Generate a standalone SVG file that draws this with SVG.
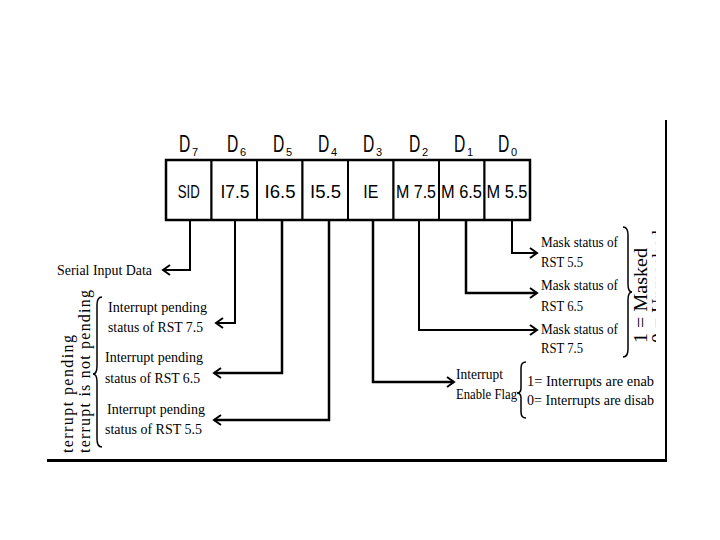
<svg xmlns="http://www.w3.org/2000/svg" width="720" height="540" viewBox="0 0 720 540">
<style>
.cell{fill:#fff;stroke:#000;stroke-width:2}
.ct{font-family:"Liberation Sans",Arial,sans-serif;font-size:19px;text-anchor:middle}
.dl{font-family:"Liberation Sans",Arial,sans-serif;font-size:23px}
.ds{font-family:"Liberation Sans",Arial,sans-serif;font-size:11px}
.lb{font-family:"Liberation Serif","Times New Roman",serif;font-size:14px}
.rt{font-family:"Liberation Serif","Times New Roman",serif;font-size:16px}
.cn{fill:none;stroke:#000;stroke-width:2;marker-end:url(#ah)}
.br{fill:none;stroke:#000;stroke-width:1.5}
</style>
<defs>
<marker id="ah" markerUnits="userSpaceOnUse" markerWidth="12" markerHeight="12" refX="9" refY="6" orient="auto">
<path d="M2,1 L9,6 L2,11" fill="none" stroke="#000" stroke-width="2"/>
</marker>
<clipPath id="rc"><rect x="600" y="200" width="56" height="200"/></clipPath>
</defs>
<rect width="720" height="540" fill="#fff"/>
<g id="frame">
<line x1="666" y1="120" x2="666" y2="462" stroke="#000" stroke-width="2"/>
<line x1="47" y1="460.5" x2="667" y2="460.5" stroke="#000" stroke-width="3"/>
</g>
<g id="register">
<rect id="cell-d7" class="cell" x="166" y="160" width="45.5" height="60"/>
<rect id="cell-d6" class="cell" x="211.5" y="160" width="45.5" height="60"/>
<rect id="cell-d5" class="cell" x="257" y="160" width="45.5" height="60"/>
<rect id="cell-d4" class="cell" x="302.5" y="160" width="45.5" height="60"/>
<rect id="cell-d3" class="cell" x="348" y="160" width="45.5" height="60"/>
<rect id="cell-d2" class="cell" x="393.5" y="160" width="45.5" height="60"/>
<rect id="cell-d1" class="cell" x="439" y="160" width="45.5" height="60"/>
<rect id="cell-d0" class="cell" x="484.5" y="160" width="45.5" height="60"/>
<rect x="166" y="160" width="364" height="60" fill="none" stroke="#000" stroke-width="2.5"/>
<text class="ct" x="188.75" y="198" textLength="22" lengthAdjust="spacingAndGlyphs">SID</text>
<text class="ct" x="235" y="198" textLength="29" lengthAdjust="spacingAndGlyphs">I7.5</text>
<text class="ct" x="280" y="198" textLength="31" lengthAdjust="spacingAndGlyphs">I6.5</text>
<text class="ct" x="325.5" y="198" textLength="31" lengthAdjust="spacingAndGlyphs">I5.5</text>
<text class="ct" x="370.75" y="198" textLength="15" lengthAdjust="spacingAndGlyphs">IE</text>
<text class="ct" x="416" y="198" textLength="40" lengthAdjust="spacingAndGlyphs">M 7.5</text>
<text class="ct" x="461.5" y="198" textLength="41" lengthAdjust="spacingAndGlyphs">M 6.5</text>
<text class="ct" x="507" y="198" textLength="41" lengthAdjust="spacingAndGlyphs">M 5.5</text>
</g>
<g id="bit-labels">
<text class="dl" transform="translate(179,152) scale(0.68,1)">D</text><text class="ds" x="192" y="156">7</text>
<text class="dl" transform="translate(227,152) scale(0.68,1)">D</text><text class="ds" x="240" y="156">6</text>
<text class="dl" transform="translate(273,152) scale(0.68,1)">D</text><text class="ds" x="286" y="156">5</text>
<text class="dl" transform="translate(318,152) scale(0.68,1)">D</text><text class="ds" x="331" y="156">4</text>
<text class="dl" transform="translate(363,152) scale(0.68,1)">D</text><text class="ds" x="376" y="156">3</text>
<text class="dl" transform="translate(409,152) scale(0.68,1)">D</text><text class="ds" x="422" y="156">2</text>
<text class="dl" transform="translate(454,152) scale(0.68,1)">D</text><text class="ds" x="467" y="156">1</text>
<text class="dl" transform="translate(498,152) scale(0.68,1)">D</text><text class="ds" x="511" y="156">0</text>
</g>
<g id="connectors">
<path class="cn" d="M190,220 V270 H163"/>
<path class="cn" d="M235,220 V323 H216"/>
<path class="cn" d="M282,220 V373 H214" style="stroke-width:2.5"/>
<path class="cn" d="M329,220 V420 H214" style="stroke-width:2.5"/>
<path class="cn" d="M373,220 V382 H454" style="stroke-width:2.5"/>
<path class="cn" d="M419,220 V330 H537"/>
<path class="cn" d="M466,220 V293 H537" style="stroke-width:2.5"/>
<path class="cn" d="M512,220 V253 H537"/>
</g>
<g id="serial-input">
<text class="lb" x="57" y="275" textLength="95" lengthAdjust="spacingAndGlyphs">Serial Input Data</text>
</g>
<g id="pending-status">
<text class="lb" x="108" y="312" textLength="99" lengthAdjust="spacingAndGlyphs">Interrupt pending</text>
<text class="lb" x="108" y="332" textLength="95" lengthAdjust="spacingAndGlyphs">status of RST 7.5</text>
<text class="lb" x="105" y="362" textLength="98" lengthAdjust="spacingAndGlyphs">Interrupt pending</text>
<text class="lb" x="105" y="383" textLength="95" lengthAdjust="spacingAndGlyphs">status of RST 6.5</text>
<text class="lb" x="107" y="414" textLength="98" lengthAdjust="spacingAndGlyphs">Interrupt pending</text>
<text class="lb" x="105" y="434" textLength="97" lengthAdjust="spacingAndGlyphs">status of RST 5.5</text>
<path class="br" d="M102,297 Q97,297 97,305 L97,366 Q97,374 93,374 Q97,374 97,382 L97,439 Q97,447 102,447"/>
<text class="rt" transform="translate(73,453) rotate(-90)" textLength="118" lengthAdjust="spacing">terrupt pending</text>
<text class="rt" transform="translate(90,453) rotate(-90)" textLength="163" lengthAdjust="spacing">terrupt is not pending</text>
</g>
<g id="mask-status">
<text class="lb" x="541" y="247" textLength="77" lengthAdjust="spacingAndGlyphs">Mask status of</text>
<text class="lb" x="541" y="267" textLength="42" lengthAdjust="spacingAndGlyphs">RST 5.5</text>
<text class="lb" x="541" y="290" textLength="77" lengthAdjust="spacingAndGlyphs">Mask status of</text>
<text class="lb" x="541" y="311" textLength="42" lengthAdjust="spacingAndGlyphs">RST 6.5</text>
<text class="lb" x="541" y="334" textLength="77" lengthAdjust="spacingAndGlyphs">Mask status of</text>
<text class="lb" x="541" y="353" textLength="42" lengthAdjust="spacingAndGlyphs">RST 7.5</text>
<path class="br" d="M623,227 Q628,227 628,235 L628,284 Q628,292 632,292 Q628,292 628,300 L628,349 Q628,357 623,357"/>
<g clip-path="url(#rc)">
<text class="rt" style="font-size:19px" transform="translate(647,343) rotate(-90)" textLength="95" lengthAdjust="spacingAndGlyphs">1 = Masked</text>
<text class="rt" style="font-size:19px" transform="translate(665,343) rotate(-90)" textLength="113" lengthAdjust="spacingAndGlyphs">0 = Unmasked</text>
</g>
</g>
<g id="interrupt-enable">
<text class="lb" x="456" y="379" textLength="47" lengthAdjust="spacingAndGlyphs">Interrupt</text>
<text class="lb" x="456" y="399" textLength="61" lengthAdjust="spacingAndGlyphs">Enable Flag</text>
<path class="br" d="M526,362 Q521,362 521,368 L521,388 Q521,393 517,393 Q521,393 521,398 L521,412 Q521,418 526,418"/>
<text class="lb" x="527" y="386" textLength="127" lengthAdjust="spacingAndGlyphs">1= Interrupts are enab</text>
<text class="lb" x="527" y="405" textLength="127" lengthAdjust="spacingAndGlyphs">0= Interrupts are disab</text>
</g>
</svg>
